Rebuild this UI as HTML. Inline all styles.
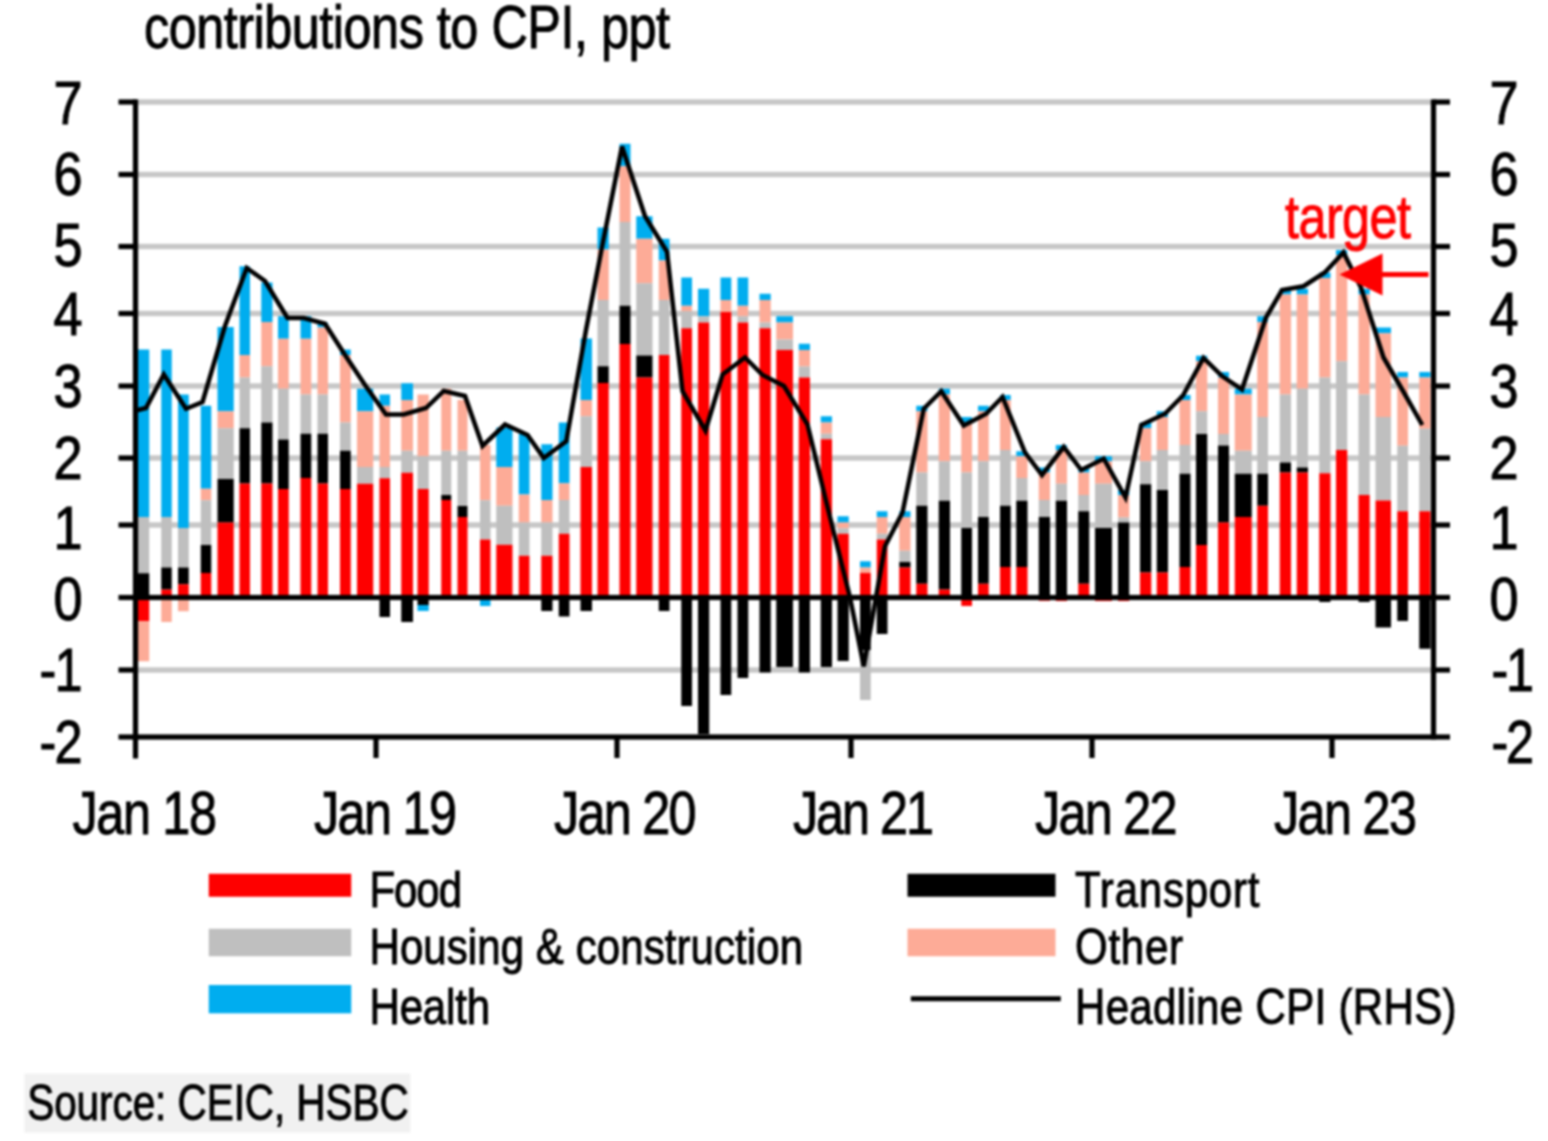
<!DOCTYPE html>
<html lang="en"><head><meta charset="utf-8"><title>contributions to CPI, ppt</title>
<style>html,body{margin:0;padding:0;background:#fff}body{width:1548px;height:1141px;overflow:hidden}svg{display:block}text{font-family:"Liberation Sans",Arial,sans-serif;fill:#000}</style></head><body>
<svg width="1548" height="1141" viewBox="0 0 1548 1141">
<defs><filter id="sb" x="-2%" y="-2%" width="104%" height="104%" color-interpolation-filters="sRGB"><feGaussianBlur stdDeviation="1.1"/></filter><filter id="tb" x="-5%" y="-20%" width="110%" height="140%" color-interpolation-filters="sRGB"><feGaussianBlur stdDeviation="0.9"/></filter></defs>
<rect width="1548" height="1141" fill="#fff"/>
<g filter="url(#sb)">
<rect x="24.4" y="1073.6" width="386" height="59" fill="#f1f1f1"/>
<rect x="135.5" y="99.3" width="1298.0" height="5.4" fill="#c7c7c7"/>
<rect x="135.5" y="171.8" width="1298.0" height="5.4" fill="#c7c7c7"/>
<rect x="135.5" y="243.8" width="1298.0" height="5.4" fill="#c7c7c7"/>
<rect x="135.5" y="310.8" width="1298.0" height="5.4" fill="#c7c7c7"/>
<rect x="135.5" y="383.3" width="1298.0" height="5.4" fill="#c7c7c7"/>
<rect x="135.5" y="455.3" width="1298.0" height="5.4" fill="#c7c7c7"/>
<rect x="135.5" y="522.3" width="1298.0" height="5.4" fill="#c7c7c7"/>
<rect x="135.5" y="667.3" width="1298.0" height="5.4" fill="#c7c7c7"/>
<rect x="136" y="349.5" width="13.25" height="167.5" fill="#00adef"/>
<rect x="136" y="517" width="13.25" height="56.25" fill="#bfbfbf"/>
<rect x="136" y="573.25" width="13.25" height="24.25" fill="#000000"/>
<rect x="136" y="597.5" width="13.25" height="23.75" fill="#fe0000"/>
<rect x="136" y="621.25" width="13.25" height="40.0" fill="#fdab97"/>
<rect x="161.25" y="349.5" width="10.5" height="167.5" fill="#00adef"/>
<rect x="161.25" y="517" width="10.5" height="50.5" fill="#bfbfbf"/>
<rect x="161.25" y="567.5" width="10.5" height="22.0" fill="#000000"/>
<rect x="161.25" y="589.5" width="10.5" height="8.0" fill="#fe0000"/>
<rect x="161.25" y="597.5" width="10.5" height="24.5" fill="#fdab97"/>
<rect x="178" y="394.5" width="10.75" height="133.5" fill="#00adef"/>
<rect x="178" y="528" width="10.75" height="39.5" fill="#bfbfbf"/>
<rect x="178" y="567.5" width="10.75" height="16.75" fill="#000000"/>
<rect x="178" y="584.25" width="10.75" height="13.25" fill="#fe0000"/>
<rect x="178" y="597.5" width="10.75" height="13.75" fill="#fdab97"/>
<rect x="200.75" y="405.75" width="10.5" height="83.0" fill="#00adef"/>
<rect x="200.75" y="488.75" width="10.5" height="11.5" fill="#fdab97"/>
<rect x="200.75" y="500.25" width="10.5" height="44.75" fill="#bfbfbf"/>
<rect x="200.75" y="545" width="10.5" height="28" fill="#000000"/>
<rect x="200.75" y="573" width="10.5" height="24.5" fill="#fe0000"/>
<rect x="217.5" y="327" width="16.25" height="84.25" fill="#00adef"/>
<rect x="217.5" y="411.25" width="16.25" height="17.0" fill="#fdab97"/>
<rect x="217.5" y="428.25" width="16.25" height="50.75" fill="#bfbfbf"/>
<rect x="217.5" y="479" width="16.25" height="43.5" fill="#000000"/>
<rect x="217.5" y="522.5" width="16.25" height="75.0" fill="#fe0000"/>
<rect x="239.5" y="266.25" width="10.5" height="88.75" fill="#00adef"/>
<rect x="239.5" y="355" width="10.5" height="22.5" fill="#fdab97"/>
<rect x="239.5" y="377.5" width="10.5" height="50.75" fill="#bfbfbf"/>
<rect x="239.5" y="428.25" width="10.5" height="55.25" fill="#000000"/>
<rect x="239.5" y="483.5" width="10.5" height="114.0" fill="#fe0000"/>
<rect x="261.25" y="282.5" width="11.25" height="39.5" fill="#00adef"/>
<rect x="261.25" y="322" width="11.25" height="44.25" fill="#fdab97"/>
<rect x="261.25" y="366.25" width="11.25" height="56.25" fill="#bfbfbf"/>
<rect x="261.25" y="422.5" width="11.25" height="61.0" fill="#000000"/>
<rect x="261.25" y="483.5" width="11.25" height="114.0" fill="#fe0000"/>
<rect x="278" y="316.25" width="10.75" height="22.5" fill="#00adef"/>
<rect x="278" y="338.75" width="10.75" height="50.0" fill="#fdab97"/>
<rect x="278" y="388.75" width="10.75" height="50.75" fill="#bfbfbf"/>
<rect x="278" y="439.5" width="10.75" height="49.5" fill="#000000"/>
<rect x="278" y="489" width="10.75" height="108.5" fill="#fe0000"/>
<rect x="300.5" y="316.25" width="10.75" height="22.5" fill="#00adef"/>
<rect x="300.5" y="338.75" width="10.75" height="55.75" fill="#fdab97"/>
<rect x="300.5" y="394.5" width="10.75" height="39.25" fill="#bfbfbf"/>
<rect x="300.5" y="433.75" width="10.75" height="44.25" fill="#000000"/>
<rect x="300.5" y="478" width="10.75" height="119.5" fill="#fe0000"/>
<rect x="317.5" y="322.5" width="10.5" height="5.0" fill="#00adef"/>
<rect x="317.5" y="327.5" width="10.5" height="67.0" fill="#fdab97"/>
<rect x="317.5" y="394.5" width="10.5" height="39.25" fill="#bfbfbf"/>
<rect x="317.5" y="433.75" width="10.5" height="49.75" fill="#000000"/>
<rect x="317.5" y="483.5" width="10.5" height="114.0" fill="#fe0000"/>
<rect x="340" y="349.5" width="10.75" height="5.5" fill="#00adef"/>
<rect x="340" y="355" width="10.75" height="67.5" fill="#fdab97"/>
<rect x="340" y="422.5" width="10.75" height="28.25" fill="#bfbfbf"/>
<rect x="340" y="450.75" width="10.75" height="38.25" fill="#000000"/>
<rect x="340" y="489" width="10.75" height="108.5" fill="#fe0000"/>
<rect x="357" y="388.75" width="16.25" height="22.5" fill="#00adef"/>
<rect x="357" y="411.25" width="16.25" height="55.75" fill="#fdab97"/>
<rect x="357" y="467" width="16.25" height="16.75" fill="#bfbfbf"/>
<rect x="357" y="483.75" width="16.25" height="113.75" fill="#fe0000"/>
<rect x="379.5" y="394.5" width="10.5" height="11.25" fill="#00adef"/>
<rect x="379.5" y="405.75" width="10.5" height="61.25" fill="#fdab97"/>
<rect x="379.5" y="467" width="10.5" height="11.25" fill="#bfbfbf"/>
<rect x="379.5" y="478.25" width="10.5" height="119.25" fill="#fe0000"/>
<rect x="379.5" y="597.5" width="10.5" height="19.5" fill="#000000"/>
<rect x="401.25" y="383.25" width="11.75" height="16.75" fill="#00adef"/>
<rect x="401.25" y="400" width="11.75" height="50.75" fill="#fdab97"/>
<rect x="401.25" y="450.75" width="11.75" height="22.0" fill="#bfbfbf"/>
<rect x="401.25" y="472.75" width="11.75" height="124.75" fill="#fe0000"/>
<rect x="401.25" y="597.5" width="11.75" height="24.5" fill="#000000"/>
<rect x="417.5" y="394.5" width="11.25" height="61.75" fill="#fdab97"/>
<rect x="417.5" y="456.25" width="11.25" height="32.75" fill="#bfbfbf"/>
<rect x="417.5" y="489" width="11.25" height="108.5" fill="#fe0000"/>
<rect x="417.5" y="597.5" width="11.25" height="7.5" fill="#000000"/>
<rect x="417.5" y="605" width="11.25" height="6" fill="#00adef"/>
<rect x="441.25" y="388.75" width="10.0" height="62.0" fill="#fdab97"/>
<rect x="441.25" y="450.75" width="10.0" height="44.25" fill="#bfbfbf"/>
<rect x="441.25" y="495" width="10.0" height="5" fill="#000000"/>
<rect x="441.25" y="500" width="10.0" height="97.5" fill="#fe0000"/>
<rect x="457.5" y="400" width="10.0" height="50.75" fill="#fdab97"/>
<rect x="457.5" y="450.75" width="10.0" height="55.25" fill="#bfbfbf"/>
<rect x="457.5" y="506" width="10.0" height="11" fill="#000000"/>
<rect x="457.5" y="517" width="10.0" height="80.5" fill="#fe0000"/>
<rect x="480" y="445" width="10.5" height="55.25" fill="#fdab97"/>
<rect x="480" y="500.25" width="10.5" height="39.25" fill="#bfbfbf"/>
<rect x="480" y="539.5" width="10.5" height="58.0" fill="#fe0000"/>
<rect x="480" y="597.5" width="10.5" height="8.5" fill="#00adef"/>
<rect x="496.25" y="427.5" width="16.25" height="39.5" fill="#00adef"/>
<rect x="496.25" y="467" width="16.25" height="38.75" fill="#fdab97"/>
<rect x="496.25" y="505.75" width="16.25" height="39.0" fill="#bfbfbf"/>
<rect x="496.25" y="544.75" width="16.25" height="52.75" fill="#fe0000"/>
<rect x="518.75" y="433.75" width="10.75" height="60.75" fill="#00adef"/>
<rect x="518.75" y="494.5" width="10.75" height="28.0" fill="#fdab97"/>
<rect x="518.75" y="522.5" width="10.75" height="33.25" fill="#bfbfbf"/>
<rect x="518.75" y="555.75" width="10.75" height="41.75" fill="#fe0000"/>
<rect x="541.25" y="444.25" width="11.25" height="55.75" fill="#00adef"/>
<rect x="541.25" y="500" width="11.25" height="22.5" fill="#fdab97"/>
<rect x="541.25" y="522.5" width="11.25" height="33.25" fill="#bfbfbf"/>
<rect x="541.25" y="555.75" width="11.25" height="41.75" fill="#fe0000"/>
<rect x="541.25" y="597.5" width="11.25" height="13.5" fill="#000000"/>
<rect x="558.75" y="422.5" width="10.75" height="60.75" fill="#00adef"/>
<rect x="558.75" y="483.25" width="10.75" height="16.75" fill="#fdab97"/>
<rect x="558.75" y="500" width="10.75" height="33.75" fill="#bfbfbf"/>
<rect x="558.75" y="533.75" width="10.75" height="63.75" fill="#fe0000"/>
<rect x="558.75" y="597.5" width="10.75" height="19.0" fill="#000000"/>
<rect x="580.5" y="338.5" width="11.5" height="61.5" fill="#00adef"/>
<rect x="580.5" y="400" width="11.5" height="16.25" fill="#fdab97"/>
<rect x="580.5" y="416.25" width="11.5" height="50.75" fill="#bfbfbf"/>
<rect x="580.5" y="467" width="11.5" height="130.5" fill="#fe0000"/>
<rect x="580.5" y="597.5" width="11.5" height="13.5" fill="#000000"/>
<rect x="597.5" y="227.5" width="11.25" height="22.0" fill="#00adef"/>
<rect x="597.5" y="249.5" width="11.25" height="50.5" fill="#fdab97"/>
<rect x="597.5" y="300" width="11.25" height="66.25" fill="#bfbfbf"/>
<rect x="597.5" y="366.25" width="11.25" height="16.75" fill="#000000"/>
<rect x="597.5" y="383" width="11.25" height="214.5" fill="#fe0000"/>
<rect x="619.5" y="143.75" width="11.0" height="22.5" fill="#00adef"/>
<rect x="619.5" y="166.25" width="11.0" height="55.75" fill="#fdab97"/>
<rect x="619.5" y="222" width="11.0" height="83.75" fill="#bfbfbf"/>
<rect x="619.5" y="305.75" width="11.0" height="38.25" fill="#000000"/>
<rect x="619.5" y="344" width="11.0" height="253.5" fill="#fe0000"/>
<rect x="636.25" y="216.25" width="16.25" height="22.5" fill="#00adef"/>
<rect x="636.25" y="238.75" width="16.25" height="44.5" fill="#fdab97"/>
<rect x="636.25" y="283.25" width="16.25" height="72.25" fill="#bfbfbf"/>
<rect x="636.25" y="355.5" width="16.25" height="22.0" fill="#000000"/>
<rect x="636.25" y="377.5" width="16.25" height="220.0" fill="#fe0000"/>
<rect x="658.75" y="238.75" width="10.75" height="21.75" fill="#00adef"/>
<rect x="658.75" y="260.5" width="10.75" height="39.5" fill="#fdab97"/>
<rect x="658.75" y="300" width="10.75" height="55" fill="#bfbfbf"/>
<rect x="658.75" y="355" width="10.75" height="242.5" fill="#fe0000"/>
<rect x="658.75" y="597.5" width="10.75" height="13.5" fill="#000000"/>
<rect x="681.25" y="277.5" width="10.75" height="28.25" fill="#00adef"/>
<rect x="681.25" y="305.75" width="10.75" height="5.5" fill="#fdab97"/>
<rect x="681.25" y="311.25" width="10.75" height="17.0" fill="#bfbfbf"/>
<rect x="681.25" y="328.25" width="10.75" height="269.25" fill="#fe0000"/>
<rect x="681.25" y="597.5" width="10.75" height="108.5" fill="#000000"/>
<rect x="698" y="288.75" width="11.25" height="27.5" fill="#00adef"/>
<rect x="698" y="316.25" width="11.25" height="6.25" fill="#bfbfbf"/>
<rect x="698" y="322.5" width="11.25" height="275.0" fill="#fe0000"/>
<rect x="698" y="597.5" width="11.25" height="136.5" fill="#000000"/>
<rect x="720.5" y="277.5" width="10.75" height="22.5" fill="#00adef"/>
<rect x="720.5" y="300" width="10.75" height="12" fill="#fdab97"/>
<rect x="720.5" y="312" width="10.75" height="285.5" fill="#fe0000"/>
<rect x="720.5" y="597.5" width="10.75" height="97.5" fill="#000000"/>
<rect x="737.5" y="277.5" width="10.75" height="28.25" fill="#00adef"/>
<rect x="737.5" y="305.75" width="10.75" height="10.5" fill="#fdab97"/>
<rect x="737.5" y="316.25" width="10.75" height="6.25" fill="#bfbfbf"/>
<rect x="737.5" y="322.5" width="10.75" height="275.0" fill="#fe0000"/>
<rect x="737.5" y="597.5" width="10.75" height="80.5" fill="#000000"/>
<rect x="759.5" y="293.75" width="11.25" height="6.25" fill="#00adef"/>
<rect x="759.5" y="300" width="11.25" height="22.5" fill="#fdab97"/>
<rect x="759.5" y="322.5" width="11.25" height="5.75" fill="#bfbfbf"/>
<rect x="759.5" y="328.25" width="11.25" height="269.25" fill="#fe0000"/>
<rect x="759.5" y="597.5" width="11.25" height="75.0" fill="#000000"/>
<rect x="776.25" y="316.25" width="16.75" height="6.25" fill="#00adef"/>
<rect x="776.25" y="322.5" width="16.75" height="17.0" fill="#fdab97"/>
<rect x="776.25" y="339.5" width="16.75" height="10.5" fill="#bfbfbf"/>
<rect x="776.25" y="350" width="16.75" height="247.5" fill="#fe0000"/>
<rect x="776.25" y="597.5" width="16.75" height="69.5" fill="#000000"/>
<rect x="798.75" y="343.75" width="11.25" height="6.25" fill="#00adef"/>
<rect x="798.75" y="350" width="11.25" height="16.5" fill="#fdab97"/>
<rect x="798.75" y="366.5" width="11.25" height="11.0" fill="#bfbfbf"/>
<rect x="798.75" y="377.5" width="11.25" height="220.0" fill="#fe0000"/>
<rect x="798.75" y="597.5" width="11.25" height="75.0" fill="#000000"/>
<rect x="820.75" y="416.25" width="11.25" height="6.25" fill="#00adef"/>
<rect x="820.75" y="422.5" width="11.25" height="11.25" fill="#fdab97"/>
<rect x="820.75" y="433.75" width="11.25" height="5.5" fill="#bfbfbf"/>
<rect x="820.75" y="439.25" width="11.25" height="158.25" fill="#fe0000"/>
<rect x="820.75" y="597.5" width="11.25" height="69.5" fill="#000000"/>
<rect x="837.5" y="516.25" width="11.25" height="6.25" fill="#00adef"/>
<rect x="837.5" y="522.5" width="11.25" height="5.75" fill="#fdab97"/>
<rect x="837.5" y="528.25" width="11.25" height="5.5" fill="#bfbfbf"/>
<rect x="837.5" y="533.75" width="11.25" height="63.75" fill="#fe0000"/>
<rect x="837.5" y="597.5" width="11.25" height="63.5" fill="#000000"/>
<rect x="860" y="561.25" width="10.75" height="6.25" fill="#00adef"/>
<rect x="860" y="567.5" width="10.75" height="5.5" fill="#fdab97"/>
<rect x="860" y="573" width="10.75" height="24.5" fill="#fe0000"/>
<rect x="860" y="597.5" width="10.75" height="52.5" fill="#000000"/>
<rect x="860" y="650" width="10.75" height="50" fill="#bfbfbf"/>
<rect x="876.75" y="511.25" width="10.75" height="5.75" fill="#00adef"/>
<rect x="876.75" y="517" width="10.75" height="16.75" fill="#fdab97"/>
<rect x="876.75" y="533.75" width="10.75" height="5.75" fill="#bfbfbf"/>
<rect x="876.75" y="539.5" width="10.75" height="58.0" fill="#fe0000"/>
<rect x="876.75" y="597.5" width="10.75" height="36.5" fill="#000000"/>
<rect x="899.25" y="511.25" width="11.25" height="5.75" fill="#00adef"/>
<rect x="899.25" y="517" width="11.25" height="33.75" fill="#fdab97"/>
<rect x="899.25" y="550.75" width="11.25" height="11.25" fill="#bfbfbf"/>
<rect x="899.25" y="562" width="11.25" height="5.5" fill="#000000"/>
<rect x="899.25" y="567.5" width="11.25" height="30.0" fill="#fe0000"/>
<rect x="916.25" y="405.75" width="11.25" height="5.5" fill="#00adef"/>
<rect x="916.25" y="411.25" width="11.25" height="61.25" fill="#fdab97"/>
<rect x="916.25" y="472.5" width="11.25" height="33.25" fill="#bfbfbf"/>
<rect x="916.25" y="505.75" width="11.25" height="78.0" fill="#000000"/>
<rect x="916.25" y="583.75" width="11.25" height="13.75" fill="#fe0000"/>
<rect x="938.75" y="388.75" width="11.25" height="5.75" fill="#00adef"/>
<rect x="938.75" y="394.5" width="11.25" height="66.75" fill="#fdab97"/>
<rect x="938.75" y="461.25" width="11.25" height="39.5" fill="#bfbfbf"/>
<rect x="938.75" y="500.75" width="11.25" height="88.75" fill="#000000"/>
<rect x="938.75" y="589.5" width="11.25" height="8.0" fill="#fe0000"/>
<rect x="961.25" y="417" width="10.75" height="5.5" fill="#00adef"/>
<rect x="961.25" y="422.5" width="10.75" height="50.0" fill="#fdab97"/>
<rect x="961.25" y="472.5" width="10.75" height="55.5" fill="#bfbfbf"/>
<rect x="961.25" y="528" width="10.75" height="69.5" fill="#000000"/>
<rect x="961.25" y="597.5" width="10.75" height="8.5" fill="#fe0000"/>
<rect x="978" y="405.75" width="10.75" height="5.5" fill="#00adef"/>
<rect x="978" y="411.25" width="10.75" height="50.0" fill="#fdab97"/>
<rect x="978" y="461.25" width="10.75" height="55.75" fill="#bfbfbf"/>
<rect x="978" y="517" width="10.75" height="66.75" fill="#000000"/>
<rect x="978" y="583.75" width="10.75" height="13.75" fill="#fe0000"/>
<rect x="1000" y="395" width="10.75" height="5" fill="#00adef"/>
<rect x="1000" y="400" width="10.75" height="50" fill="#fdab97"/>
<rect x="1000" y="450" width="10.75" height="55.75" fill="#bfbfbf"/>
<rect x="1000" y="505.75" width="10.75" height="61.25" fill="#000000"/>
<rect x="1000" y="567" width="10.75" height="30.5" fill="#fe0000"/>
<rect x="1016.25" y="451.25" width="11.25" height="5.0" fill="#00adef"/>
<rect x="1016.25" y="456.25" width="11.25" height="21.75" fill="#fdab97"/>
<rect x="1016.25" y="478" width="11.25" height="22.75" fill="#bfbfbf"/>
<rect x="1016.25" y="500.75" width="11.25" height="66.25" fill="#000000"/>
<rect x="1016.25" y="567" width="11.25" height="30.5" fill="#fe0000"/>
<rect x="1038.75" y="467.5" width="11.25" height="5.0" fill="#00adef"/>
<rect x="1038.75" y="472.5" width="11.25" height="27.5" fill="#fdab97"/>
<rect x="1038.75" y="500" width="11.25" height="17" fill="#bfbfbf"/>
<rect x="1038.75" y="517" width="11.25" height="80.5" fill="#000000"/>
<rect x="1038.75" y="597.5" width="11.25" height="3.3" fill="#fe0000"/>
<rect x="1055.75" y="445" width="11.25" height="5.5" fill="#00adef"/>
<rect x="1055.75" y="450.5" width="11.25" height="33.25" fill="#fdab97"/>
<rect x="1055.75" y="483.75" width="11.25" height="17.0" fill="#bfbfbf"/>
<rect x="1055.75" y="500.75" width="11.25" height="96.75" fill="#000000"/>
<rect x="1055.75" y="597.5" width="11.25" height="3.5" fill="#fe0000"/>
<rect x="1078.25" y="467.5" width="11.0" height="5.0" fill="#00adef"/>
<rect x="1078.25" y="472.5" width="11.0" height="22.5" fill="#fdab97"/>
<rect x="1078.25" y="495" width="11.0" height="16.25" fill="#bfbfbf"/>
<rect x="1078.25" y="511.25" width="11.0" height="72.5" fill="#000000"/>
<rect x="1078.25" y="583.75" width="11.0" height="13.75" fill="#fe0000"/>
<rect x="1095" y="456.25" width="17" height="5.0" fill="#00adef"/>
<rect x="1095" y="461.25" width="17" height="22.5" fill="#fdab97"/>
<rect x="1095" y="483.75" width="17" height="44.25" fill="#bfbfbf"/>
<rect x="1095" y="528" width="17" height="69.5" fill="#000000"/>
<rect x="1095" y="597.5" width="17" height="3.5" fill="#fe0000"/>
<rect x="1118" y="490" width="11.25" height="5" fill="#00adef"/>
<rect x="1118" y="495" width="11.25" height="22.5" fill="#fdab97"/>
<rect x="1118" y="517.5" width="11.25" height="5.0" fill="#bfbfbf"/>
<rect x="1118" y="522.5" width="11.25" height="75.0" fill="#000000"/>
<rect x="1118" y="597.5" width="11.25" height="3.5" fill="#fe0000"/>
<rect x="1140" y="422.5" width="11.25" height="5.5" fill="#00adef"/>
<rect x="1140" y="428" width="11.25" height="33.25" fill="#fdab97"/>
<rect x="1140" y="461.25" width="11.25" height="23.0" fill="#bfbfbf"/>
<rect x="1140" y="484.25" width="11.25" height="88.25" fill="#000000"/>
<rect x="1140" y="572.5" width="11.25" height="25.0" fill="#fe0000"/>
<rect x="1156.75" y="411.25" width="11.25" height="5.75" fill="#00adef"/>
<rect x="1156.75" y="417" width="11.25" height="33" fill="#fdab97"/>
<rect x="1156.75" y="450" width="11.25" height="40" fill="#bfbfbf"/>
<rect x="1156.75" y="490" width="11.25" height="82.5" fill="#000000"/>
<rect x="1156.75" y="572.5" width="11.25" height="25.0" fill="#fe0000"/>
<rect x="1179.5" y="395" width="11.0" height="5" fill="#00adef"/>
<rect x="1179.5" y="400" width="11.0" height="45" fill="#fdab97"/>
<rect x="1179.5" y="445" width="11.0" height="28.75" fill="#bfbfbf"/>
<rect x="1179.5" y="473.75" width="11.0" height="93.25" fill="#000000"/>
<rect x="1179.5" y="567" width="11.0" height="30.5" fill="#fe0000"/>
<rect x="1196" y="355.75" width="11.25" height="5.5" fill="#00adef"/>
<rect x="1196" y="361.25" width="11.25" height="50.0" fill="#fdab97"/>
<rect x="1196" y="411.25" width="11.25" height="22.75" fill="#bfbfbf"/>
<rect x="1196" y="434" width="11.25" height="111" fill="#000000"/>
<rect x="1196" y="545" width="11.25" height="52.5" fill="#fe0000"/>
<rect x="1218" y="372" width="11" height="5.5" fill="#00adef"/>
<rect x="1218" y="377.5" width="11" height="56.5" fill="#fdab97"/>
<rect x="1218" y="434" width="11" height="11.5" fill="#bfbfbf"/>
<rect x="1218" y="445.5" width="11" height="77.0" fill="#000000"/>
<rect x="1218" y="522.5" width="11" height="75.0" fill="#fe0000"/>
<rect x="1234.75" y="388.75" width="17.0" height="5.75" fill="#00adef"/>
<rect x="1234.75" y="394.5" width="17.0" height="56.25" fill="#fdab97"/>
<rect x="1234.75" y="450.75" width="17.0" height="23.0" fill="#bfbfbf"/>
<rect x="1234.75" y="473.75" width="17.0" height="43.25" fill="#000000"/>
<rect x="1234.75" y="517" width="17.0" height="80.5" fill="#fe0000"/>
<rect x="1257.25" y="316.25" width="10.75" height="5.75" fill="#00adef"/>
<rect x="1257.25" y="322" width="10.75" height="95" fill="#fdab97"/>
<rect x="1257.25" y="417" width="10.75" height="56.75" fill="#bfbfbf"/>
<rect x="1257.25" y="473.75" width="10.75" height="32.0" fill="#000000"/>
<rect x="1257.25" y="505.75" width="10.75" height="91.75" fill="#fe0000"/>
<rect x="1279.75" y="288.75" width="11.25" height="5.75" fill="#00adef"/>
<rect x="1279.75" y="294.5" width="11.25" height="100.0" fill="#fdab97"/>
<rect x="1279.75" y="394.5" width="11.25" height="68.0" fill="#bfbfbf"/>
<rect x="1279.75" y="462.5" width="11.25" height="10.0" fill="#000000"/>
<rect x="1279.75" y="472.5" width="11.25" height="125.0" fill="#fe0000"/>
<rect x="1296.75" y="288.75" width="11.25" height="5.75" fill="#00adef"/>
<rect x="1296.75" y="294.5" width="11.25" height="94.25" fill="#fdab97"/>
<rect x="1296.75" y="388.75" width="11.25" height="78.75" fill="#bfbfbf"/>
<rect x="1296.75" y="467.5" width="11.25" height="5.0" fill="#000000"/>
<rect x="1296.75" y="472.5" width="11.25" height="125.0" fill="#fe0000"/>
<rect x="1319.25" y="272.5" width="11.25" height="5.5" fill="#00adef"/>
<rect x="1319.25" y="278" width="11.25" height="99.5" fill="#fdab97"/>
<rect x="1319.25" y="377.5" width="11.25" height="95.75" fill="#bfbfbf"/>
<rect x="1319.25" y="473.25" width="11.25" height="124.25" fill="#fe0000"/>
<rect x="1319.25" y="597.5" width="11.25" height="4.5" fill="#000000"/>
<rect x="1336" y="250" width="11.25" height="5" fill="#00adef"/>
<rect x="1336" y="255" width="11.25" height="106.25" fill="#fdab97"/>
<rect x="1336" y="361.25" width="11.25" height="88.75" fill="#bfbfbf"/>
<rect x="1336" y="450" width="11.25" height="147.5" fill="#fe0000"/>
<rect x="1358.5" y="288.75" width="11.25" height="5.75" fill="#00adef"/>
<rect x="1358.5" y="294.5" width="11.25" height="100.0" fill="#fdab97"/>
<rect x="1358.5" y="394.5" width="11.25" height="100.5" fill="#bfbfbf"/>
<rect x="1358.5" y="495" width="11.25" height="102.5" fill="#fe0000"/>
<rect x="1358.5" y="597.5" width="11.25" height="4.5" fill="#000000"/>
<rect x="1375.5" y="327.5" width="15.5" height="5.75" fill="#00adef"/>
<rect x="1375.5" y="333.25" width="15.5" height="83.75" fill="#fdab97"/>
<rect x="1375.5" y="417" width="15.5" height="83.5" fill="#bfbfbf"/>
<rect x="1375.5" y="500.5" width="15.5" height="97.0" fill="#fe0000"/>
<rect x="1375.5" y="597.5" width="15.5" height="30.0" fill="#000000"/>
<rect x="1397.25" y="372" width="10.75" height="5.5" fill="#00adef"/>
<rect x="1397.25" y="377.5" width="10.75" height="68.25" fill="#fdab97"/>
<rect x="1397.25" y="445.75" width="10.75" height="65.5" fill="#bfbfbf"/>
<rect x="1397.25" y="511.25" width="10.75" height="86.25" fill="#fe0000"/>
<rect x="1397.25" y="597.5" width="10.75" height="23.5" fill="#000000"/>
<rect x="1419.25" y="372" width="11.25" height="5.5" fill="#00adef"/>
<rect x="1419.25" y="377.5" width="11.25" height="51.25" fill="#fdab97"/>
<rect x="1419.25" y="428.75" width="11.25" height="82.5" fill="#bfbfbf"/>
<rect x="1419.25" y="511.25" width="11.25" height="86.25" fill="#fe0000"/>
<rect x="1419.25" y="597.5" width="11.25" height="51.25" fill="#000000"/>
<rect x="132.9" y="99.4" width="5.2" height="659.1" fill="#000"/>
<rect x="1430.9" y="99.4" width="5.2" height="640.1" fill="#000"/>
<rect x="135.5" y="594.9" width="1298.0" height="5.2" fill="#000"/>
<rect x="135.5" y="734.4" width="1298.0" height="5.2" fill="#000"/>
<rect x="118.5" y="99.4" width="17.0" height="5.2" fill="#000"/>
<rect x="1433.5" y="99.4" width="16.5" height="5.2" fill="#000"/>
<rect x="118.5" y="171.9" width="17.0" height="5.2" fill="#000"/>
<rect x="1433.5" y="171.9" width="16.5" height="5.2" fill="#000"/>
<rect x="118.5" y="243.9" width="17.0" height="5.2" fill="#000"/>
<rect x="1433.5" y="243.9" width="16.5" height="5.2" fill="#000"/>
<rect x="118.5" y="310.9" width="17.0" height="5.2" fill="#000"/>
<rect x="1433.5" y="310.9" width="16.5" height="5.2" fill="#000"/>
<rect x="118.5" y="383.4" width="17.0" height="5.2" fill="#000"/>
<rect x="1433.5" y="383.4" width="16.5" height="5.2" fill="#000"/>
<rect x="118.5" y="455.4" width="17.0" height="5.2" fill="#000"/>
<rect x="1433.5" y="455.4" width="16.5" height="5.2" fill="#000"/>
<rect x="118.5" y="522.4" width="17.0" height="5.2" fill="#000"/>
<rect x="1433.5" y="522.4" width="16.5" height="5.2" fill="#000"/>
<rect x="118.5" y="594.9" width="17.0" height="5.2" fill="#000"/>
<rect x="1433.5" y="594.9" width="16.5" height="5.2" fill="#000"/>
<rect x="118.5" y="667.4" width="17.0" height="5.2" fill="#000"/>
<rect x="1433.5" y="667.4" width="16.5" height="5.2" fill="#000"/>
<rect x="118.5" y="734.4" width="17.0" height="5.2" fill="#000"/>
<rect x="1433.5" y="734.4" width="16.5" height="5.2" fill="#000"/>
<rect x="373.4" y="737" width="5.2" height="21" fill="#000"/>
<rect x="614.4" y="737" width="5.2" height="21" fill="#000"/>
<rect x="848.4" y="737" width="5.2" height="21" fill="#000"/>
<rect x="1089.4" y="737" width="5.2" height="21" fill="#000"/>
<rect x="1329.4" y="737" width="5.2" height="21" fill="#000"/>
<polyline points="136,410.5 146,408 163.75,374.5 186,408.75 202.5,402 225,326 246.75,268 265,281 287.5,318 303.75,318 325,323.75 345,355 365,385 386,414.5 403.75,414.5 426,408 443.75,391 465,396 482.5,446 505,424.5 527.5,435 543.75,458 566.25,441.25 586,330 603,242 622,146.5 645,216.25 667,251.75 682.5,391.25 705.5,430.75 722.5,374.5 745,357.5 762.5,375 784,386 807.5,424.5 827,505 850,597.5 863.75,666.25 885,546.25 902.5,512.5 923.75,408.75 941.25,391.25 963.75,425.5 986.25,413.75 1002.5,397 1025,452.5 1042,475 1063.75,447 1081.25,470 1103.75,458.75 1125.5,497.5 1141.25,425 1165,413.75 1183,395.5 1203.5,358 1222,376 1242,389.5 1266,317.5 1282,290 1303.5,286.25 1324.75,272.5 1343.5,252.5 1361,287.5 1383.5,357.5 1403,391 1422.25,425" fill="none" stroke="#000" stroke-width="4.5" stroke-linejoin="miter" stroke-miterlimit="3"/>
<rect x="1380" y="272" width="48.5" height="5" fill="#fe0000"/>
<polygon points="1339.5,274.5 1382.5,253.5 1382.5,295.5" fill="#fe0000"/>
<rect x="208.75" y="873.75" width="142.5" height="23" fill="#fe0000"/>
<rect x="208.75" y="928.75" width="142.5" height="27.5" fill="#bfbfbf"/>
<rect x="208.75" y="985" width="142.5" height="28.3" fill="#00adef"/>
<rect x="907.5" y="873.75" width="148" height="23" fill="#000000"/>
<rect x="907.5" y="928.75" width="148" height="27.5" fill="#fdab97"/>
<rect x="910.8" y="996.25" width="150" height="5" fill="#000000"/>
</g>
<g filter="url(#tb)">
<text transform="translate(144,48) scale(0.82,1)" font-size="61.5" style="fill:#000;stroke:#000;stroke-width:1.0" textLength="641.5" lengthAdjust="spacing">contributions to CPI, ppt</text>
<text transform="translate(82.5,123.5) scale(0.85,1)" font-size="61.5" text-anchor="end" style="fill:#000;stroke:#000;stroke-width:1.0">7</text>
<text transform="translate(1489.5,123.5) scale(0.85,1)" font-size="61.5" style="fill:#000;stroke:#000;stroke-width:1.0">7</text>
<text transform="translate(82.5,195) scale(0.85,1)" font-size="61.5" text-anchor="end" style="fill:#000;stroke:#000;stroke-width:1.0">6</text>
<text transform="translate(1489.5,195) scale(0.85,1)" font-size="61.5" style="fill:#000;stroke:#000;stroke-width:1.0">6</text>
<text transform="translate(82.5,265.5) scale(0.85,1)" font-size="61.5" text-anchor="end" style="fill:#000;stroke:#000;stroke-width:1.0">5</text>
<text transform="translate(1489.5,265.5) scale(0.85,1)" font-size="61.5" style="fill:#000;stroke:#000;stroke-width:1.0">5</text>
<text transform="translate(82.5,335.2) scale(0.85,1)" font-size="61.5" text-anchor="end" style="fill:#000;stroke:#000;stroke-width:1.0">4</text>
<text transform="translate(1489.5,335.2) scale(0.85,1)" font-size="61.5" style="fill:#000;stroke:#000;stroke-width:1.0">4</text>
<text transform="translate(82.5,406.5) scale(0.85,1)" font-size="61.5" text-anchor="end" style="fill:#000;stroke:#000;stroke-width:1.0">3</text>
<text transform="translate(1489.5,406.5) scale(0.85,1)" font-size="61.5" style="fill:#000;stroke:#000;stroke-width:1.0">3</text>
<text transform="translate(82.5,478.5) scale(0.85,1)" font-size="61.5" text-anchor="end" style="fill:#000;stroke:#000;stroke-width:1.0">2</text>
<text transform="translate(1489.5,478.5) scale(0.85,1)" font-size="61.5" style="fill:#000;stroke:#000;stroke-width:1.0">2</text>
<text transform="translate(82.5,549) scale(0.85,1)" font-size="61.5" text-anchor="end" style="fill:#000;stroke:#000;stroke-width:1.0">1</text>
<text transform="translate(1489.5,549) scale(0.85,1)" font-size="61.5" style="fill:#000;stroke:#000;stroke-width:1.0">1</text>
<text transform="translate(82.5,620) scale(0.85,1)" font-size="61.5" text-anchor="end" style="fill:#000;stroke:#000;stroke-width:1.0">0</text>
<text transform="translate(1489.5,620) scale(0.85,1)" font-size="61.5" style="fill:#000;stroke:#000;stroke-width:1.0">0</text>
<text transform="translate(39.5,691) scale(0.82,1)" font-size="61.5" style="fill:#000;stroke:#000;stroke-width:1.0" textLength="52.4" lengthAdjust="spacing">-1</text>
<text transform="translate(1491.5,691) scale(0.82,1)" font-size="61.5" style="fill:#000;stroke:#000;stroke-width:1.0" textLength="51.8" lengthAdjust="spacing">-1</text>
<text transform="translate(39.5,762.5) scale(0.82,1)" font-size="61.5" style="fill:#000;stroke:#000;stroke-width:1.0" textLength="52.4" lengthAdjust="spacing">-2</text>
<text transform="translate(1491.5,762.5) scale(0.82,1)" font-size="61.5" style="fill:#000;stroke:#000;stroke-width:1.0" textLength="51.8" lengthAdjust="spacing">-2</text>
<text transform="translate(72.5,833.5) scale(0.82,1)" font-size="61.5" style="fill:#000;stroke:#000;stroke-width:1.0" textLength="176.2" lengthAdjust="spacing">Jan 18</text>
<text transform="translate(314,833.5) scale(0.82,1)" font-size="61.5" style="fill:#000;stroke:#000;stroke-width:1.0" textLength="174.4" lengthAdjust="spacing">Jan 19</text>
<text transform="translate(554,833.5) scale(0.82,1)" font-size="61.5" style="fill:#000;stroke:#000;stroke-width:1.0" textLength="173.8" lengthAdjust="spacing">Jan 20</text>
<text transform="translate(793,833.5) scale(0.82,1)" font-size="61.5" style="fill:#000;stroke:#000;stroke-width:1.0" textLength="172.0" lengthAdjust="spacing">Jan 21</text>
<text transform="translate(1035,833.5) scale(0.82,1)" font-size="61.5" style="fill:#000;stroke:#000;stroke-width:1.0" textLength="173.8" lengthAdjust="spacing">Jan 22</text>
<text transform="translate(1274,833.5) scale(0.82,1)" font-size="61.5" style="fill:#000;stroke:#000;stroke-width:1.0" textLength="174.4" lengthAdjust="spacing">Jan 23</text>
<text transform="translate(1285,238) scale(0.82,1)" font-size="61.5" style="fill:#fe0000;stroke:#fe0000;stroke-width:1.0" textLength="153.7" lengthAdjust="spacing">target</text>
<text transform="translate(369.5,907) scale(0.84,1)" font-size="50" style="fill:#000;stroke:#000;stroke-width:1.0" textLength="110.1" lengthAdjust="spacing">Food</text>
<text transform="translate(369.5,964) scale(0.84,1)" font-size="50" style="fill:#000;stroke:#000;stroke-width:1.0" textLength="516.1" lengthAdjust="spacing">Housing &amp; construction</text>
<text transform="translate(369.5,1024) scale(0.84,1)" font-size="50" style="fill:#000;stroke:#000;stroke-width:1.0" textLength="143.5" lengthAdjust="spacing">Health</text>
<text transform="translate(1075,907) scale(0.84,1)" font-size="50" style="fill:#000;stroke:#000;stroke-width:1.0" textLength="219.6" lengthAdjust="spacing">Transport</text>
<text transform="translate(1075,964) scale(0.84,1)" font-size="50" style="fill:#000;stroke:#000;stroke-width:1.0" textLength="128.6" lengthAdjust="spacing">Other</text>
<text transform="translate(1075,1024) scale(0.84,1)" font-size="50" style="fill:#000;stroke:#000;stroke-width:1.0" textLength="454.2" lengthAdjust="spacing">Headline CPI (RHS)</text>
<text transform="translate(27.2,1120) scale(0.81,1)" font-size="50" style="fill:#000;stroke:#000;stroke-width:1.0" textLength="471.0" lengthAdjust="spacing">Source: CEIC, HSBC</text>
</g>
</svg></body></html>
